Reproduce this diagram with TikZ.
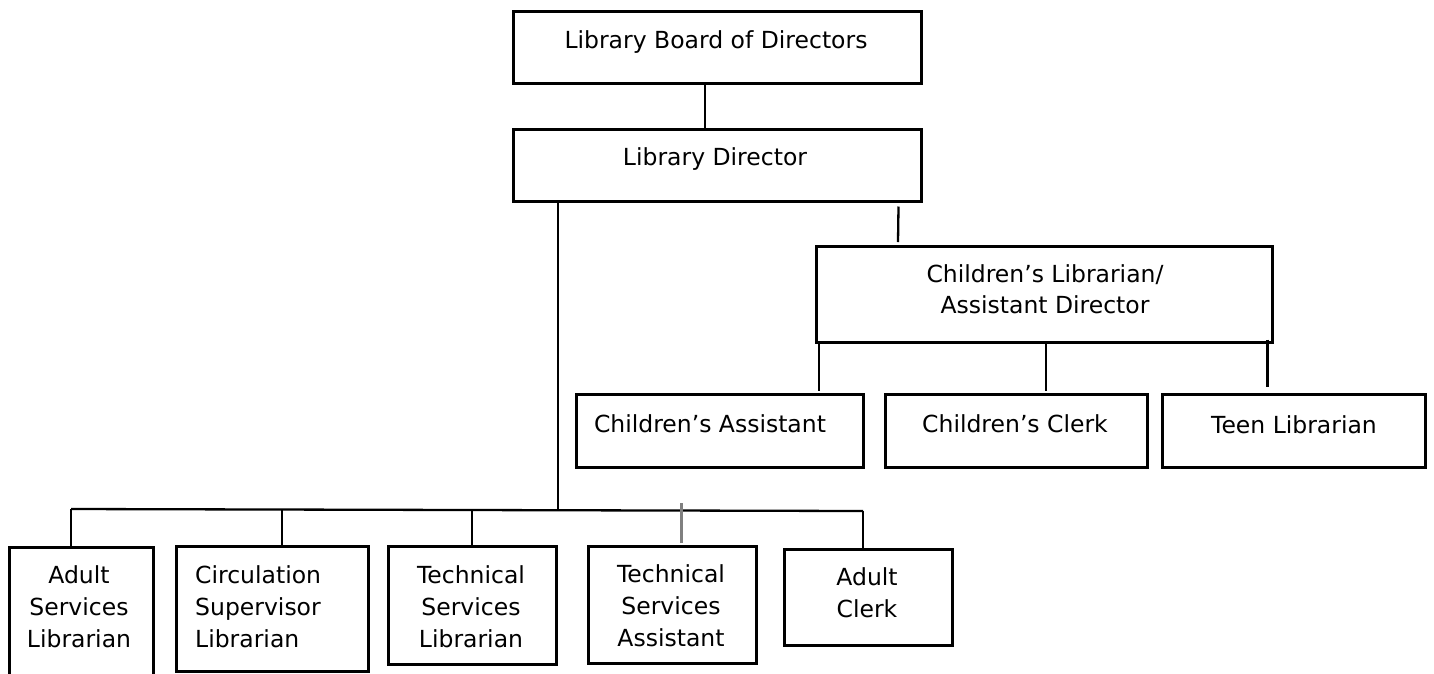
\documentclass[tikz,border=0pt]{standalone}
\usepackage{fontspec}
\setmainfont{DejaVu Sans}
\begin{document}
\begin{tikzpicture}[x=1pt,y=-1pt,
  box/.style={draw=black, line width=2.5pt, rectangle, inner sep=0pt, anchor=north west},
  txt/.style={font=\fontsize{23.5}{32}\selectfont, align=center, inner sep=0pt, anchor=base},
  conn/.style={draw=black, line width=2.3pt},
  grayconn/.style={draw=black!50, line width=3.2pt}]
\useasboundingbox (0,0) rectangle (1434,673);
\clip (0,0) rectangle (1434,673);
\fill[white] (0,0) rectangle (1434,673);
% boxes
\node[box, minimum width=408pt, minimum height=72pt] (board) at (512,10) {};
\node[box, minimum width=408pt, minimum height=72pt] (director) at (512,128) {};
\node[box, minimum width=456pt, minimum height=96pt] (childlib) at (815,245) {};
\node[box, minimum width=287pt, minimum height=73pt] (chassist) at (575,393) {};
\node[box, minimum width=262pt, minimum height=73pt] (chclerk) at (884,393) {};
\node[box, minimum width=263pt, minimum height=73pt] (teen) at (1161,393) {};
\node[box, minimum width=144pt, minimum height=150pt] (adultsvc) at (8,546) {};
\node[box, minimum width=192pt, minimum height=125pt] (circ) at (175,545) {};
\node[box, minimum width=168pt, minimum height=118pt] (techlib) at (387,545) {};
\node[box, minimum width=168pt, minimum height=117pt] (techasst) at (587,545) {};
\node[box, minimum width=168pt, minimum height=96pt] (adultclerk) at (783,548) {};
% texts (multi-line nodes: base anchor = last line)
\node[txt] (tboard) at (716,48) {Library Board of Directors};
\node[txt] (tdir) at (715,165) {Library Director};
\node[txt, font=\fontsize{23.5}{31}\selectfont] (tchild) at (1045,313) {Children’s Librarian/\\Assistant Director};
\node[txt] (tcha) at (710,432) {Children’s Assistant};
\node[txt] (tchc) at (1015,432) {Children’s Clerk};
\node[txt] (tteen) at (1294,433) {Teen Librarian};
\node[txt] (tads) at (79,647) {Adult\\Services\\Librarian};
\node[txt, align=left, anchor=base west] (tcirc) at (195,647) {Circulation\\Supervisor\\Librarian};
\node[txt] (ttl) at (471,647) {Technical\\Services\\Librarian};
\node[txt] (tta) at (671,646) {Technical\\Services\\Assistant};
\node[txt] (tac) at (867,617) {Adult\\Clerk};
% connectors
\coordinate (busL) at (71,509);
\coordinate (busR) at (863,511);
\coordinate (busM) at (558,510);
\draw[conn] ([xshift=-12pt]board.south) -- ([xshift=-12pt]director.north);
\draw[conn] ([xshift=46pt]director.south west) -- (busM);
\draw[conn] (busL) -- (busR);
\draw[conn] (busL) -- (busL |- adultsvc.north);
\draw[conn] ([xshift=10pt]circ.north) -- ([xshift=10pt]circ.north |- busL);
\draw[conn] (techlib.north) -- (techlib.north |- busL);
\draw[grayconn] ([xshift=9pt,yshift=2pt]techasst.north) -- ++(0,-40);
\draw[conn] (busR) -- (busR |- adultclerk.north);
\draw[conn] ([xshift=-24pt,yshift=-4pt]director.south east) -- ([xshift=83pt,yshift=3pt]childlib.north west);
\draw[conn] ([xshift=4pt]childlib.south west) -- ++(0,47);
\draw[conn] ([xshift=2pt]childlib.south) -- ++(0,47);
\draw[conn] ([xshift=-6pt,yshift=4pt]childlib.south east) -- ++(0,47);
\end{tikzpicture}
\end{document}
